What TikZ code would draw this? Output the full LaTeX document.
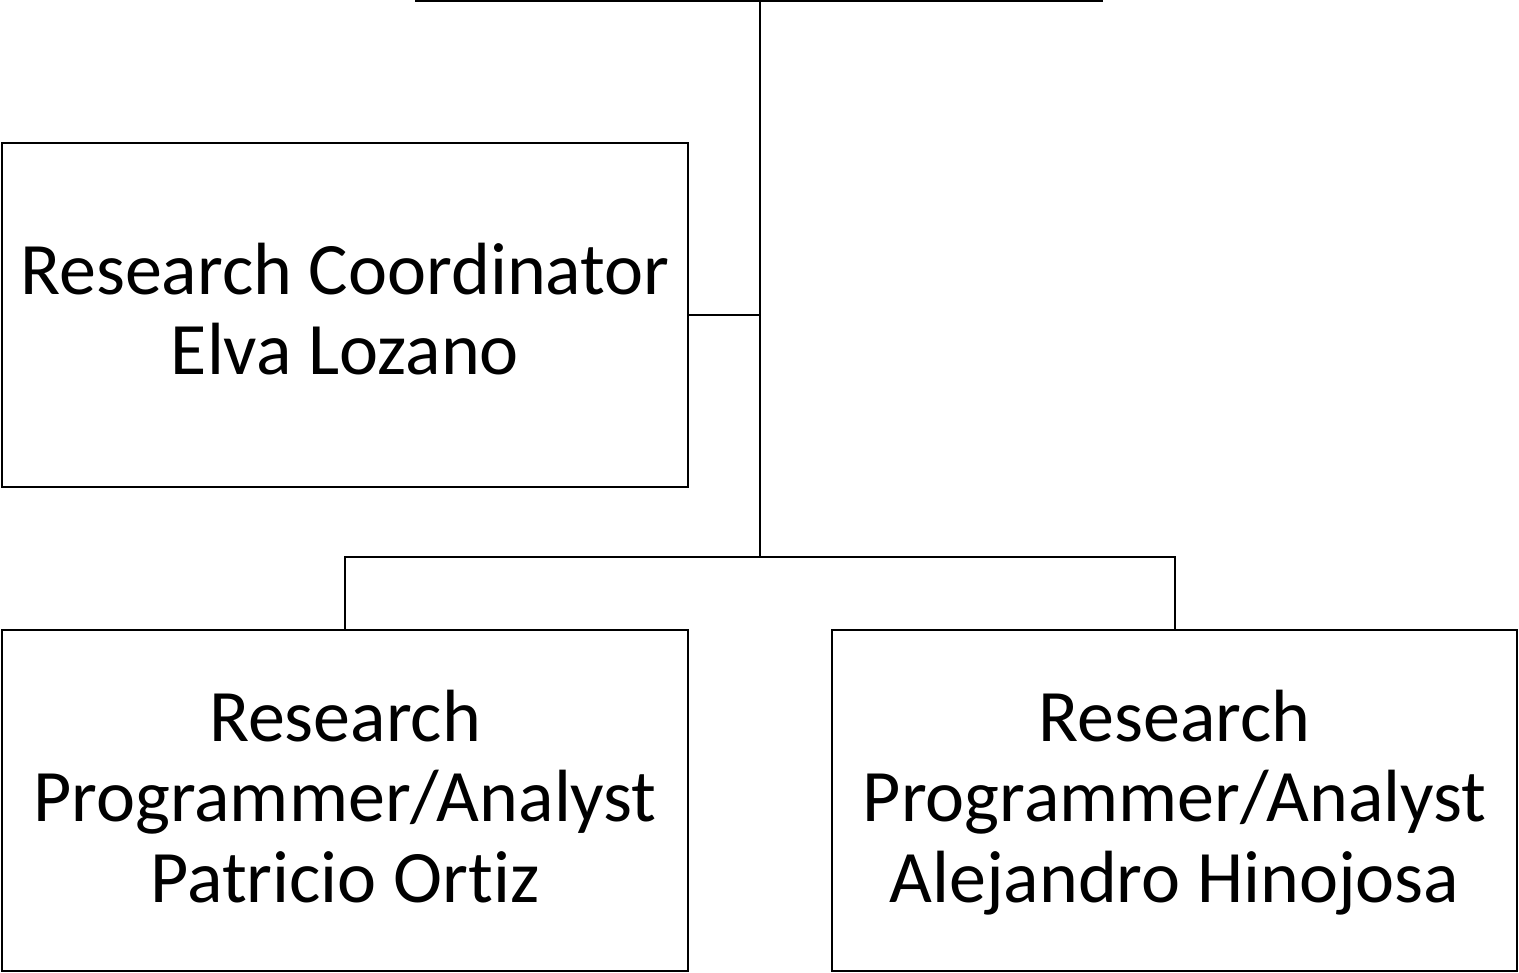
\documentclass[tikz,border=0pt]{standalone}
\usepackage{fontspec}
\setmainfont{Carlito}[Ligatures={NoCommon}]
\newcommand{\topstrut}[1]{\rule{0pt}{#1pt}}
\newcommand{\botstrut}[1]{\rule[-#1pt]{0pt}{#1pt}}
\begin{document}
\begin{tikzpicture}[x=1pt,y=-1pt,
  line width=2pt,
  role/.style={draw, inner sep=0pt, align=center},
  twoline/.style={role, font=\fontsize{74}{80}\selectfont},
  threeline/.style={role, font=\fontsize{74}{80.5}\selectfont}]
\useasboundingbox (0,0) rectangle (1519,973);
\node[twoline, minimum width=686pt, minimum height=344pt] (coord) at (345,315)
  {\topstrut{62}Research Coordinator\\Elva Lozano\botstrut{22}};
\node[threeline, minimum width=686pt, minimum height=341pt] (pat) at (345,800.5)
  {\topstrut{64}Research\\Programmer/Analyst\\Patricio Ortiz\botstrut{22}};
\node[threeline, minimum width=685pt, minimum height=341pt] (ale) at (1174.5,800.5)
  {\topstrut{64}Research\\Programmer/Analyst\\Alejandro Hinojosa\botstrut{22}};
\coordinate (tl) at (415,1);
\coordinate (tr) at (1103,1);
\coordinate (top) at (760,1);
\coordinate (junc) at (760,557);
\draw (tl) -- (tr);
\draw (top) -- (junc);
\draw (coord.east) -- (coord.east -| junc);
\draw (pat.north) -- (pat.north |- junc) -- (ale.north |- junc) -- (ale.north);
\end{tikzpicture}
\end{document}
